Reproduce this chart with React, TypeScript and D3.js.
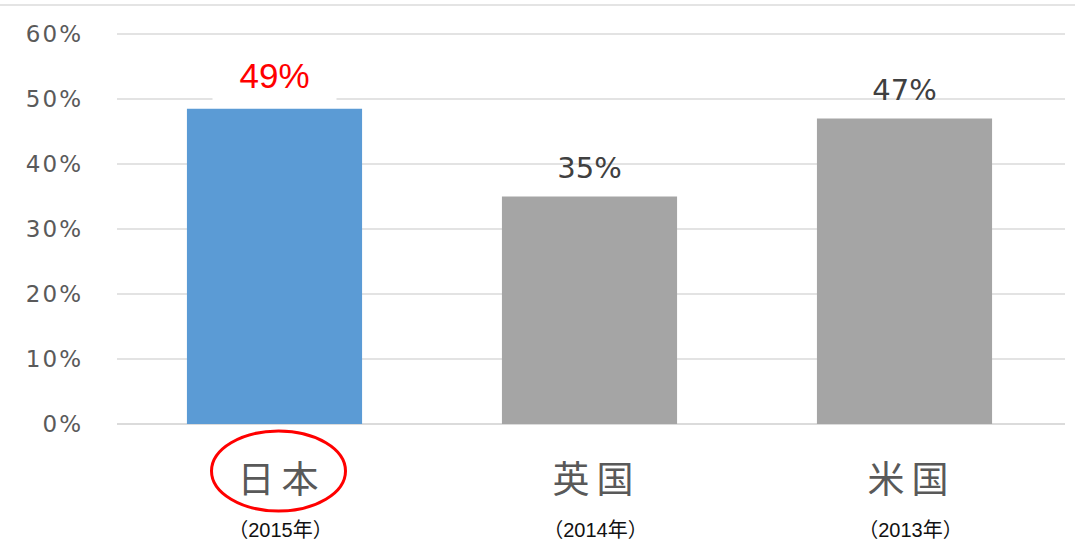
import React from "react";
import * as d3 from "d3";

const categories = ["日本", "英国", "米国"];
const years = ["（2015年）", "（2014年）", "（2013年）"];
const values = [48.5, 35, 47];
const valueLabels = ["49%", "35%", "47%"];
const yTicks = [0, 10, 20, 30, 40, 50, 60];

const W = 1086;
const H = 543;

export default function App() {
  const x = d3.scaleBand<string>().domain(categories).range([117, 1062]).paddingInner(0.444).paddingOuter(0.222);
  const y = d3.scaleLinear().domain([0, 60]).range([424, 34]);
  const sans = "'DejaVu Sans', 'Noto Sans CJK JP', sans-serif";
  const cjk = "'Noto Sans CJK JP', sans-serif";
  const yearFont = "'Liberation Sans', 'Noto Sans CJK JP', sans-serif";
  return (
    <svg width={W} height={H} style={{ position: "absolute", left: 0, top: 0, background: "#fff" }}>
      <line x1={0} x2={1075} y1={5} y2={5} stroke="#e4e4e4" strokeWidth={2} />
      {yTicks.map((t) => (
        <g key={t}>
          <line x1={117} x2={1065} y1={y(t)} y2={y(t)} stroke={t === 0 ? "#cfcfcf" : "#dadada"} strokeWidth={1.5} />
          <text x={83} y={y(t)} dy="0.36em" textAnchor="end" fontSize={23} fill="#5a5a5a" fontFamily={sans} letterSpacing={2}>
            {t}%
          </text>
        </g>
      ))}
      {categories.map((c, i) => {
        const bx = x(c)!;
        const bw = x.bandwidth();
        const cx = bx + bw / 2;
        const top = y(values[i]);
        return (
          <g key={c}>
            <rect x={bx} y={top} width={bw} height={y(0) - top} fill={i === 0 ? "#5b9bd5" : "#a5a5a5"} />
            {i === 0 && <rect x={cx - 62} y={top - 52} width={124} height={48} fill="#fff" />}
            <text
              x={cx}
              y={i === 0 ? top - 21 : top - 19}
              textAnchor="middle"
              fontSize={i === 0 ? 35 : 29}
              fill={i === 0 ? "#ff0000" : "#404040"}
              fontFamily={i === 0 ? "'Liberation Sans', sans-serif" : sans}
            >
              {valueLabels[i]}
            </text>
            <text x={cx + 7} y={493} textAnchor="middle" fontSize={37} fill="#595959" fontFamily={cjk} letterSpacing={7}>
              {c}
            </text>
            <text x={cx + 6} y={537} textAnchor="middle" fontSize={20} fill="#111" fontFamily={yearFont}>
              {years[i]}
            </text>
          </g>
        );
      })}
      <ellipse cx={x(categories[0])! + x.bandwidth() / 2 + 4} cy={471} rx={67} ry={40} fill="none" stroke="#ff0000" strokeWidth={3} />
    </svg>
  );
}
